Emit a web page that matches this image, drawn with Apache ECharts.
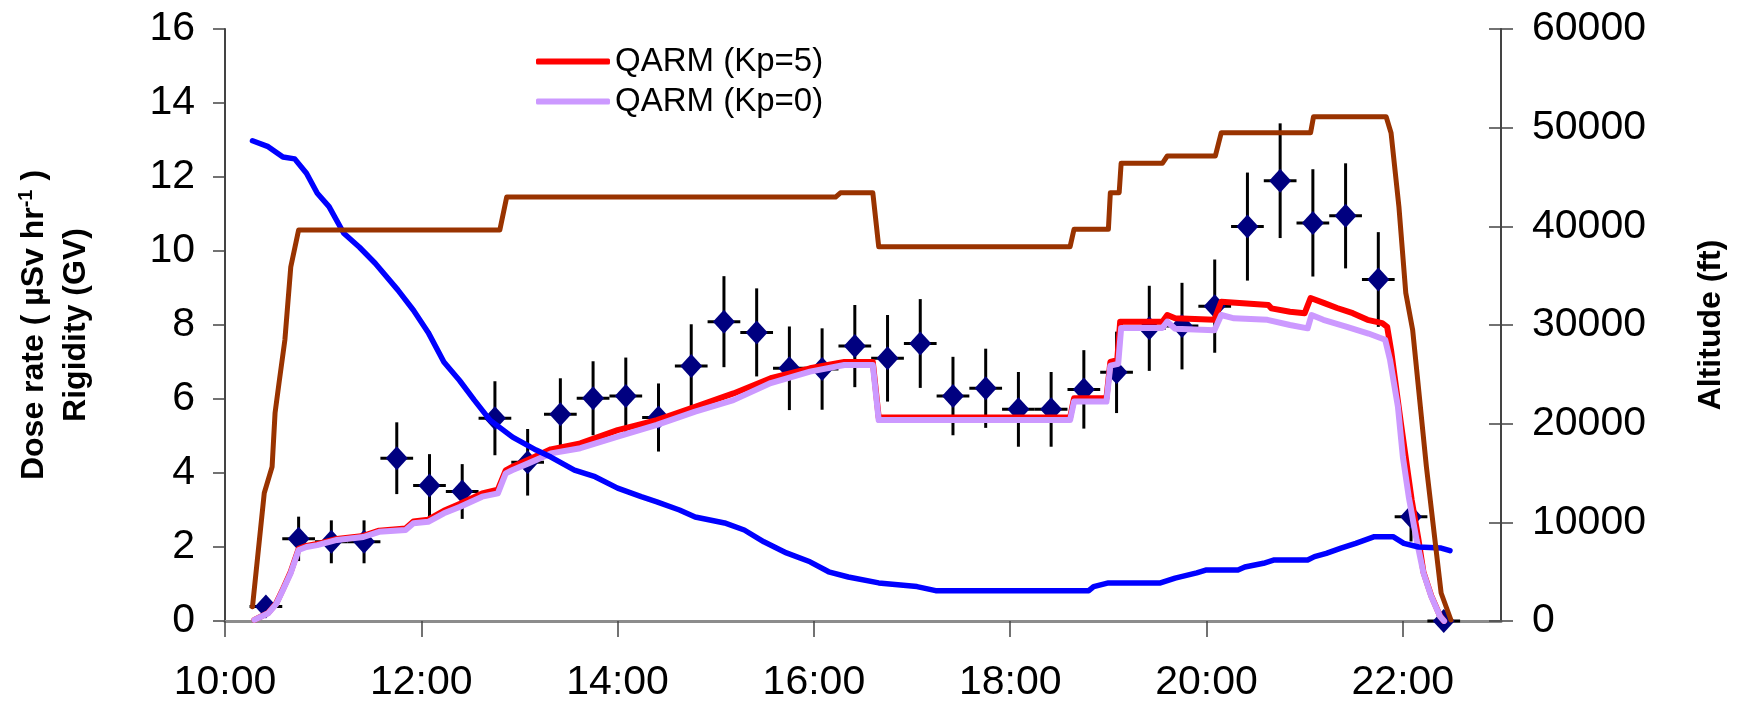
<!DOCTYPE html>
<html>
<head>
<meta charset="utf-8">
<script src="https://cdn.jsdelivr.net/npm/echarts@6/dist/echarts.min.js"></script>
<style>
html,body{margin:0;padding:0;background:#fff;}
#c{width:1740px;height:708px;}
</style>
</head>
<body>
<div id="c"></div>
<script>
// ---- data (time in decimal hours) ----
const xTickValues = [10, 12, 14, 16, 18, 20, 22];

const qarmKp5 = [
  [10.30,0.03],[10.44,0.22],[10.52,0.47],[10.59,0.86],[10.67,1.33],[10.75,1.95],[10.83,2.03],[10.94,2.08],
  [11.14,2.22],[11.41,2.30],[11.57,2.44],[11.84,2.50],[11.92,2.69],[12.07,2.74],[12.23,2.98],[12.39,3.16],
  [12.62,3.45],[12.78,3.55],[12.86,4.07],[12.93,4.17],[13.09,4.36],[13.32,4.64],[13.62,4.80],[14.00,5.16],
  [14.40,5.43],[14.79,5.79],[15.18,6.15],[15.56,6.56],[15.96,6.83],[16.31,7.00],[16.60,7.00],[16.66,5.50],
  [18.61,5.50],[18.65,6.02],[18.98,6.02],[19.02,7.00],[19.09,7.05],[19.12,8.09],[19.55,8.09],[19.60,8.27],
  [19.68,8.18],[20.08,8.14],[20.15,8.63],[20.63,8.54],[20.66,8.45],[20.85,8.36],[21.00,8.32],[21.06,8.73],
  [21.20,8.59],[21.33,8.46],[21.49,8.32],[21.64,8.14],[21.79,8.05],[21.84,7.95],[21.88,7.32],[21.98,5.35],
  [22.09,3.27],[22.16,2.19],[22.21,1.32],[22.29,0.68],[22.38,0.13],[22.42,0.00]
];

const qarmKp0 = [
  [10.30,0.03],[10.44,0.21],[10.52,0.45],[10.59,0.84],[10.67,1.30],[10.75,1.92],[10.83,2.00],[10.94,2.05],
  [11.14,2.19],[11.41,2.27],[11.57,2.41],[11.84,2.46],[11.92,2.64],[12.07,2.68],[12.23,2.91],[12.39,3.08],
  [12.62,3.36],[12.78,3.45],[12.86,3.99],[12.93,4.08],[13.09,4.26],[13.32,4.53],[13.62,4.67],[14.00,4.98],
  [14.40,5.30],[14.79,5.66],[15.18,5.97],[15.56,6.43],[15.96,6.74],[16.31,6.92],[16.60,6.92],[16.66,5.43],
  [18.61,5.43],[18.65,5.93],[18.98,5.93],[19.02,6.90],[19.10,6.95],[19.13,7.92],[19.55,7.92],[19.60,8.09],
  [19.68,7.90],[20.08,7.86],[20.15,8.27],[20.28,8.18],[20.62,8.14],[20.85,8.00],[21.03,7.91],[21.07,8.27],
  [21.19,8.14],[21.43,7.95],[21.65,7.77],[21.82,7.60],[21.87,7.05],[21.95,5.79],[22.00,4.44],[22.06,3.36],
  [22.14,2.19],[22.21,1.30],[22.29,0.66],[22.38,0.12],[22.42,0.00]
];

const rigidity = [
  [10.28,12.98],[10.44,12.82],[10.59,12.54],[10.71,12.49],[10.83,12.10],[10.94,11.56],[11.06,11.20],[11.21,10.48],
  [11.37,10.10],[11.53,9.67],[11.76,8.95],[11.92,8.40],[12.07,7.80],[12.23,7.00],[12.39,6.50],[12.54,5.97],
  [12.70,5.43],[12.93,4.97],[13.17,4.62],[13.32,4.43],[13.56,4.08],[13.77,3.90],[14.00,3.59],[14.24,3.36],
  [14.40,3.22],[14.63,3.00],[14.79,2.81],[15.09,2.65],[15.29,2.46],[15.49,2.14],[15.72,1.84],[15.96,1.60],
  [16.15,1.33],[16.35,1.19],[16.66,1.03],[17.05,0.93],[17.24,0.82],[18.80,0.82],[18.85,0.93],[19.00,1.03],
  [19.53,1.03],[19.68,1.16],[19.90,1.30],[20.00,1.38],[20.32,1.38],[20.39,1.46],[20.58,1.56],[20.69,1.65],
  [21.03,1.65],[21.10,1.74],[21.22,1.83],[21.37,1.97],[21.52,2.10],[21.71,2.28],[21.90,2.28],[22.01,2.10],
  [22.16,2.00],[22.39,1.97],[22.48,1.90]
];

const altitude = [
  [10.28,1450],[10.40,12970],[10.48,15640],[10.51,21080],[10.55,24100],[10.61,28480],[10.67,35880],[10.75,39630],
  [12.80,39630],[12.87,42970],[16.22,42970],[16.27,43400],[16.60,43400],[16.66,37940],[18.61,37940],[18.65,39700],
  [19.00,39700],[19.02,43410],[19.11,43410],[19.13,46390],[19.55,46390],[19.60,47130],[20.09,47130],[20.15,49490],
  [21.06,49490],[21.09,51110],[21.83,51110],[21.88,49460],[21.96,41990],[22.03,33240],[22.10,29500],[22.24,15640],
  [22.39,2840],[22.49,100]
];

const measTimes = ["10:25","10:45","11:05","11:25","11:45","12:05","12:25","12:45","13:05","13:25","13:45",
  "14:05","14:25","14:45","15:05","15:25","15:45","16:05","16:25","16:45","17:05","17:25","17:45","18:05",
  "18:25","18:45","19:05","19:25","19:45","20:05","20:25","20:45","21:05","21:25","21:45","22:05","22:25"];
const measDose = [0.39,2.22,2.14,2.14,4.40,3.66,3.50,5.48,4.29,5.59,6.02,6.08,5.50,6.89,8.09,7.80,6.83,6.81,
  7.43,7.10,7.50,6.08,6.29,5.72,5.72,6.26,6.72,7.91,7.97,8.51,10.66,11.90,10.76,10.95,9.23,2.82,0.00];
const doseErr = [0.00,0.60,0.58,0.58,0.97,0.85,0.74,1.00,0.90,0.97,1.00,1.04,0.92,1.13,1.23,1.19,1.13,1.10,
  1.11,1.17,1.20,1.06,1.07,1.01,1.01,1.06,1.10,1.15,1.17,1.26,1.46,1.55,1.45,1.42,1.28,0.67,0.00];
const timeErrMinutes = 10;

// ---- build ----
const toH = s => { const p = s.split(':'); return +p[0] + (+p[1]) / 60; };
const measPoints = measTimes.map((t, i) => [toH(t), measDose[i]]);
const errPoints = measTimes.map((t, i) => [toH(t), measDose[i], doseErr[i], timeErrMinutes / 60]);

const FONT = '"Liberation Sans", Arial, sans-serif';
const chart = echarts.init(document.getElementById('c'));

chart.setOption({
  animation: false,
  backgroundColor: '#fff',
  grid: { left: 225, right: 239, top: 29, bottom: 87, containLabel: false },
  legend: {
    data: ['QARM (Kp=5)', 'QARM (Kp=0)'],
    orient: 'vertical',
    left: 536, top: 45,
    padding: 0,
    itemWidth: 74, itemHeight: 6, itemGap: 7,
    icon: 'roundRect',
    textStyle: { fontFamily: FONT, fontSize: 33, color: '#000' },
    selectedMode: false
  },
  xAxis: [{
    type: 'value', min: 10, max: 23,
    axisLine: { lineStyle: { color: '#555', width: 2 } },
    axisTick: { show: true, length: 16, lineStyle: { color: '#444', width: 1.5 }, customValues: xTickValues },
    axisLabel: { customValues: xTickValues, formatter: v => v + ':00', fontFamily: FONT, fontSize: 41, color: '#000', margin: 41 },
    splitLine: { show: false }
  }, {
    type: 'value', min: 10, max: 23, position: 'top',
    axisLine: { lineStyle: { color: '#8c8c8c', width: 3 } },
    axisTick: { show: false }, axisLabel: { show: false }, splitLine: { show: false }
  }],
  yAxis: [{
    type: 'value', min: 0, max: 16, interval: 2, position: 'left',
    name: 'Dose rate ( µSv hr{sup|-1} )\nRigidity (GV)',
    nameLocation: 'middle', nameRotate: 90, nameGap: 128,
    nameTextStyle: { fontFamily: FONT, fontSize: 32, fontWeight: 'bold', color: '#000', lineHeight: 42,
      rich: { sup: { fontFamily: FONT, fontSize: 20, fontWeight: 'bold', padding: [0, 0, 16, 0] } } },
    axisLine: { show: true, lineStyle: { color: '#444', width: 2 } },
    axisTick: { show: true, length: 12, lineStyle: { color: '#444', width: 1.5 } },
    axisLabel: { fontFamily: FONT, fontSize: 41, color: '#000', margin: 30 },
    splitLine: { show: false }
  }, {
    type: 'value', min: 0, max: 60000, interval: 10000, position: 'right',
    name: 'Altitude (ft)', nameLocation: 'middle', nameRotate: 90, nameGap: 194,
    nameTextStyle: { fontFamily: FONT, fontSize: 32, fontWeight: 'bold', color: '#000' },
    axisLine: { show: true, lineStyle: { color: '#444', width: 2 } },
    axisTick: { show: true, length: 12, lineStyle: { color: '#444', width: 1.5 } },
    axisLabel: { formatter: v => String(v), fontFamily: FONT, fontSize: 41, color: '#000', margin: 31 },
    splitLine: { show: false }
  }, {
    type: 'value', min: 0, max: 60000, interval: 10000, position: 'right',
    axisLine: { show: false },
    axisTick: { show: true, inside: true, length: 12, lineStyle: { color: '#444', width: 1.5 } },
    axisLabel: { show: false }, splitLine: { show: false }
  }],
  series: [
    { name: 'QARM (Kp=5)', type: 'line', data: qarmKp5, showSymbol: false, color: '#ff0000',
      lineStyle: { width: 6, cap: 'round', join: 'round' } },
    { name: 'QARM (Kp=0)', type: 'line', data: qarmKp0, showSymbol: false, color: '#cc99ff',
      lineStyle: { width: 6, cap: 'round', join: 'round' } },
    { name: 'Rigidity', type: 'line', data: rigidity, showSymbol: false, color: '#0000ff',
      lineStyle: { width: 5.5, cap: 'round', join: 'round' } },
    { name: 'Error', type: 'custom', data: errPoints, encode: { x: 0, y: 1 },
      renderItem: function (params, api) {
        const t = api.value(0), v = api.value(1), e = api.value(2), te = api.value(3);
        const l = api.coord([t - te, v]), r = api.coord([t + te, v]);
        const lo = api.coord([t, v - e]), hi = api.coord([t, v + e]);
        const st = { stroke: '#000', lineWidth: 3 };
        return { type: 'group', children: [
          { type: 'line', shape: { x1: l[0], y1: l[1], x2: r[0], y2: r[1] }, style: st },
          { type: 'line', shape: { x1: lo[0], y1: lo[1], x2: hi[0], y2: hi[1] }, style: st }
        ] };
      } },
    { name: 'Measured', type: 'scatter', data: measPoints, symbol: 'diamond', symbolSize: [22, 24],
      itemStyle: { color: '#000080', opacity: 1 } },
    { name: 'Altitude', type: 'line', yAxisIndex: 1, data: altitude, showSymbol: false, color: '#993300',
      lineStyle: { width: 5, cap: 'round', join: 'round' } }
  ]
});
</script>
</body>
</html>
